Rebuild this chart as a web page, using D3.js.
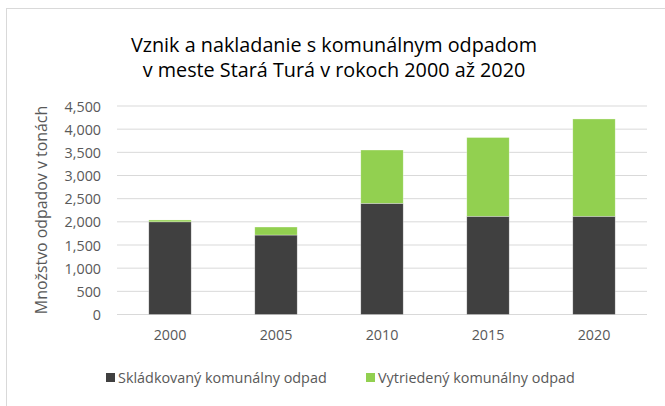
<!DOCTYPE html>
<html><head><meta charset="utf-8">
<script src="https://cdn.jsdelivr.net/npm/d3@7"></script>
<style>body{margin:0;background:#fff}svg{display:block}</style>
</head><body>
<script>
const years = ["2000","2005","2010","2015","2020"];
const landfilled = [2000, 1715, 2400, 2120, 2120];
const sorted = [40, 173, 1150, 1700, 2100];
const seriesNames = ["Skládkovaný komunálny odpad","Vytriedený komunálny odpad"];
const seriesColors = ["#404040","#92d050"];
const yTicks = [0,500,1000,1500,2000,2500,3000,3500,4000,4500];
const titleLines = ["Vznik a nakladanie s komunálnym odpadom","v meste Stará Turá v rokoch 2000 až 2020"];
const yTitle = "Množstvo odpadov v tonách";

const W=665,H=406;
const font = "'Open Sans', sans-serif";
const svg = d3.select("body").append("svg").attr("width",W).attr("height",H);
svg.append("rect").attr("x",6.5).attr("y",8.5).attr("width",700).attr("height",450)
  .attr("fill","#fff").attr("stroke","#d9d9d9").attr("stroke-width",1);

const x = d3.scaleBand().domain(years).range([117,647]).paddingInner(0.6).paddingOuter(0.3);
const y = d3.scaleLinear().domain([0,4500]).range([314.5,106]);

svg.append("g").selectAll("line").data(yTicks).join("line")
  .attr("x1",117).attr("x2",647).attr("y1",d=>y(d)).attr("y2",d=>y(d))
  .attr("stroke","#d9d9d9").attr("stroke-width",1);

const data = years.map((yr,i)=>({year:yr, a:landfilled[i], b:sorted[i]}));
const stack = d3.stack().keys(["a","b"])(data);
svg.append("g").selectAll("g").data(stack).join("g")
  .attr("fill",(d,i)=>seriesColors[i])
  .selectAll("rect").data(d=>d).join("rect")
  .attr("x",d=>x(d.data.year)).attr("width",x.bandwidth())
  .attr("y",d=>y(d[1])).attr("height",d=>y(d[0])-y(d[1]))
  .attr("stroke","#fff").attr("stroke-width",0.6).attr("stroke-opacity",0.5);

const yAxis = svg.append("g").attr("transform","translate(101,0)")
  .call(d3.axisLeft(y).tickValues(yTicks).tickSize(0).tickPadding(0).tickFormat(d3.format(",")));
yAxis.select(".domain").remove();
yAxis.selectAll("text").attr("font-family",font).attr("font-size",14.3).attr("fill","#595959").attr("dy","0.35em");

const xAxis = svg.append("g").attr("transform","translate(0,314.5)")
  .call(d3.axisBottom(x).tickSize(0).tickPadding(0));
xAxis.select(".domain").remove();
xAxis.selectAll("text").attr("font-family",font).attr("font-size",14.3).attr("fill","#595959").attr("dy","1.8em");

svg.append("g").selectAll("text").data(titleLines).join("text")
  .attr("x",334).attr("y",(d,i)=>52+i*25).attr("text-anchor","middle")
  .attr("font-family",font).attr("font-size",19.8).attr("fill","#000").text(d=>d);

svg.append("text").attr("transform","translate(47,210) rotate(-90)").attr("text-anchor","middle")
  .attr("font-family",font).attr("font-size",15.9).attr("fill","#595959").text(yTitle);

const legX=[106,366];
const leg = svg.append("g").selectAll("g").data(seriesNames).join("g")
  .attr("transform",(d,i)=>`translate(${legX[i]},373)`);
leg.append("rect").attr("width",9).attr("height",9).attr("fill",(d,i)=>seriesColors[i]);
leg.append("text").attr("x",12).attr("y",10).attr("font-family",font).attr("font-size",14.4)
  .attr("fill","#595959").text(d=>d);
</script>
</body></html>
